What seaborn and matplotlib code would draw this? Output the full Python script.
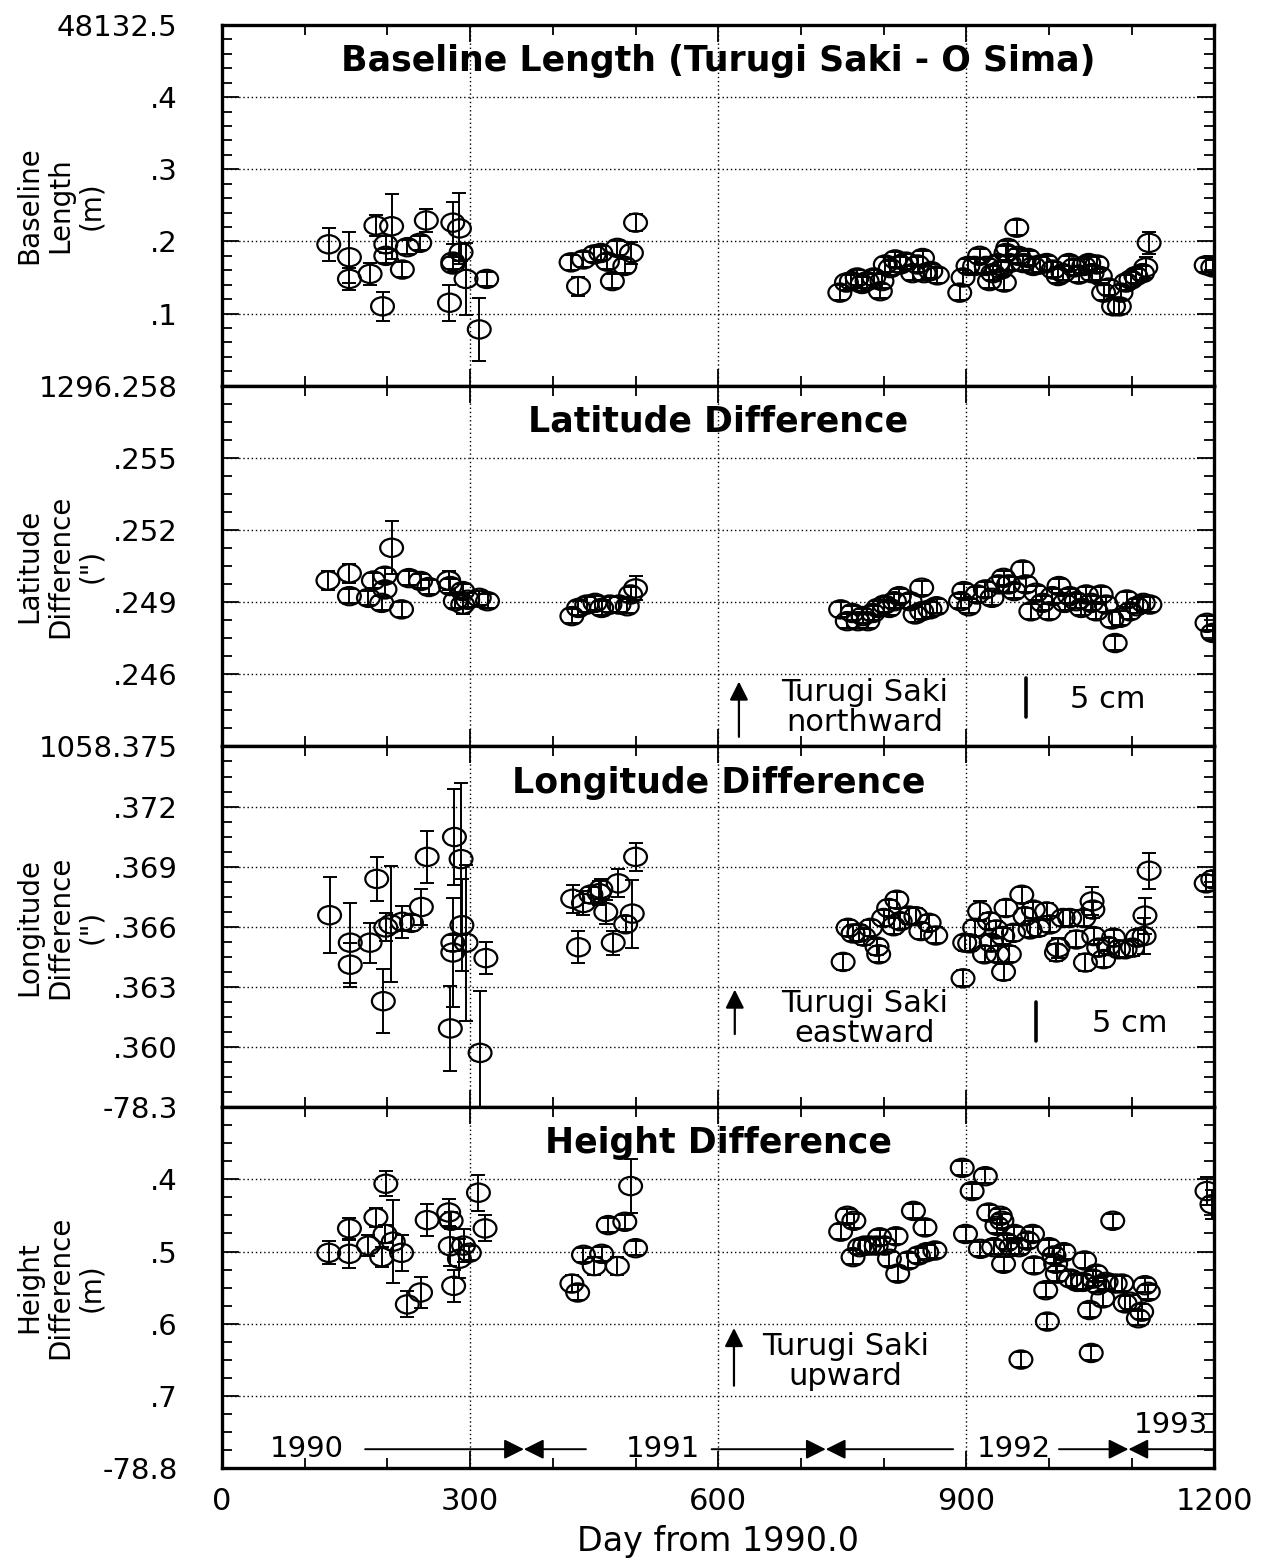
import numpy as np
import pandas as pd
import matplotlib
matplotlib.use("Agg")
import matplotlib.pyplot as plt
import seaborn as sns
from matplotlib.path import Path
from matplotlib.ticker import FixedLocator, FixedFormatter, MultipleLocator

# ---------------- data ----------------
# Panel 1: baseline length, decimals of 48132.xxx m
p1_day = [129, 154, 154, 179, 186, 194, 205, 198, 198, 218, 224, 239, 247, 275, 279, 279, 279, 287, 289, 295, 311, 320,
          422, 431, 437, 450, 458, 466, 472, 478, 487, 495, 500,
          747, 755, 761, 768, 774, 780, 788, 796, 798, 802, 808, 814, 820, 827, 835, 841, 847, 849, 857, 865,
          892, 896, 902, 910, 916, 924, 928, 932, 938, 942, 946, 948, 950, 952, 961, 963, 969, 975, 981, 989,
          997, 1005, 1011, 1017, 1024, 1030, 1036, 1042, 1048, 1052, 1058, 1062, 1066, 1072, 1078, 1085, 1087,
          1093, 1099, 1105, 1113, 1117, 1121, 1190, 1198]
p1_val = [0.196, 0.178, 0.148, 0.155, 0.222, 0.110, 0.221, 0.196, 0.180, 0.161, 0.192, 0.198, 0.229, 0.115, 0.226,
          0.172, 0.168, 0.218, 0.185, 0.148, 0.078, 0.148,
          0.171, 0.138, 0.175, 0.182, 0.184, 0.172, 0.145, 0.191, 0.166, 0.184, 0.226,
          0.129, 0.143, 0.145, 0.150, 0.141, 0.145, 0.150, 0.131, 0.145, 0.168, 0.163, 0.175, 0.168, 0.172, 0.156,
          0.168, 0.177, 0.156, 0.159, 0.153,
          0.129, 0.150, 0.166, 0.166, 0.180, 0.166, 0.145, 0.156, 0.170, 0.161, 0.143, 0.184, 0.191, 0.170, 0.219,
          0.180, 0.170, 0.177, 0.166, 0.168,
          0.170, 0.161, 0.152, 0.156, 0.170, 0.164, 0.154, 0.166, 0.170, 0.156, 0.168, 0.152, 0.129, 0.136, 0.110,
          0.110, 0.129, 0.143, 0.147, 0.152, 0.156, 0.164, 0.198, 0.167, 0.164]
p1_err = ([0.023, 0.035, 0.015, 0.015, 0.015, 0.020, 0.045, 0.012, 0.010, 0.010, 0.010, 0.010, 0.016, 0.025, 0.029,
           0.010, 0.010, 0.049, 0.012, 0.050, 0.044, 0.010,
           0.010, 0.013, 0.010, 0.010, 0.010, 0.010, 0.010, 0.010, 0.010, 0.015, 0.012]
          + [0.010] * 61 + [0.015, 0.015, 0.010, 0.010])

# Panel 2: latitude difference, decimals of 1296.xxx arcsec
p2_day = [128, 154, 154, 177, 183, 193, 197, 197, 205, 217, 226, 240, 250, 274, 276, 282, 291, 291, 297, 311, 321,
          423, 431, 441, 451, 459, 469, 480, 490, 494, 500,
          748, 756, 762, 769, 775, 781, 787, 793, 801, 807, 813, 819, 832, 838, 846, 846, 856, 864,
          893, 897, 903, 913, 923, 931, 939, 945, 951, 958, 968, 972, 978, 984, 992, 1000, 1004, 1012, 1019, 1025,
          1033, 1039, 1045, 1051, 1057, 1063, 1069, 1076, 1080, 1086, 1094, 1098, 1106, 1114, 1122, 1191, 1198]
p2_val = [0.2499, 0.2502, 0.24925, 0.24918, 0.2499, 0.24897, 0.24953, 0.2501, 0.25126, 0.2487, 0.2500, 0.24988,
          0.24963, 0.2499, 0.24967, 0.24904, 0.24946, 0.2489, 0.2491, 0.24918, 0.24904,
          0.24842, 0.24876, 0.2489, 0.24897, 0.24876, 0.2489, 0.2489, 0.24883, 0.24932, 0.24957,
          0.2487, 0.24821, 0.24855, 0.24821, 0.24842, 0.24821, 0.24855, 0.24876, 0.2489, 0.24876, 0.24904, 0.24925,
          0.24904, 0.24849, 0.2496, 0.24862, 0.2487, 0.24883,
          0.24904, 0.24946, 0.24883, 0.24932, 0.24953, 0.24918, 0.24974, 0.25001, 0.24974, 0.24946, 0.25036,
          0.24974, 0.24862, 0.24939, 0.24897, 0.24862, 0.24925, 0.24967, 0.24897, 0.24925, 0.24904, 0.24876,
          0.24932, 0.24897, 0.24862, 0.24932, 0.2489, 0.24828, 0.2473, 0.24835, 0.24911, 0.24862, 0.24883,
          0.24897, 0.2489, 0.24814, 0.24772]
p2_err = ([0.0004, 0.0004, 0.0003, 0.0003, 0.0003, 0.0003, 0.0003, 0.0003, 0.0011, 0.0003, 0.0003, 0.0003, 0.0003,
           0.0004, 0.0003, 0.0003, 0.0003, 0.0004, 0.0003, 0.0003, 0.0003,
           0.0003, 0.0003, 0.0003, 0.0003, 0.0003, 0.0003, 0.0003, 0.0003, 0.0003, 0.0005]
          + [0.0003] * 55)

# Panel 3: longitude difference, decimals of 1058.xxx arcsec
p3_day = [130, 155, 155, 179, 187, 195, 198, 204, 218, 229, 241, 248, 276, 279, 279, 281, 289, 290, 295, 319, 312,
          424, 431, 437, 446, 456, 458, 464, 473, 479, 488, 496, 500,
          751, 757, 763, 770, 776, 784, 792, 794, 800, 806, 812, 816, 820, 831, 839, 845, 855, 863,
          896, 898, 904, 910, 916, 922, 928, 930, 936, 938, 944, 945, 948, 952, 957, 967, 971, 977, 981, 987,
          997, 1001, 1009, 1011, 1017, 1025, 1033, 1042, 1044, 1052, 1053, 1054, 1060, 1066, 1072, 1078, 1084,
          1092, 1101, 1107, 1115, 1116, 1121, 1190, 1198]
p3_val = [0.36658, 0.36521, 0.36411, 0.36521, 0.36839, 0.36229, 0.36597, 0.36613, 0.36625, 0.3662, 0.36699,
          0.36949, 0.36093, 0.36472, 0.36521, 0.37048, 0.36938, 0.36608, 0.36521, 0.36444, 0.35971,
          0.3674, 0.36498, 0.36719, 0.36761, 0.36768, 0.36789, 0.36674, 0.36521, 0.36817, 0.36613, 0.36666, 0.36949,
          0.36425, 0.36595, 0.36567, 0.3657, 0.36551, 0.36595, 0.36501, 0.36463, 0.36644, 0.36694, 0.36603,
          0.36735, 0.36628, 0.36656, 0.36653, 0.36579, 0.3662, 0.36557,
          0.36343, 0.36521, 0.36518, 0.36595, 0.36677, 0.36463, 0.36628, 0.36521, 0.36587, 0.36463, 0.36554,
          0.36376, 0.36694, 0.36463, 0.3657, 0.3676, 0.36653, 0.36587, 0.36686, 0.36595, 0.36677, 0.36612,
          0.36472, 0.36496, 0.36644, 0.36644, 0.36537, 0.36644, 0.36422, 0.36727, 0.36686, 0.36554, 0.36496,
          0.36439, 0.36504, 0.36546, 0.36488, 0.36488, 0.36496, 0.36546, 0.36554, 0.36656, 0.3688, 0.36817, 0.36837]
p3_err = ([0.0019, 0.0020, 0.0011, 0.0010, 0.0011, 0.0016, 0.0007, 0.0029, 0.0008, 0.0004, 0.0009, 0.0013, 0.0021,
           0.0027, 0.0004, 0.0024, 0.0038, 0.0023, 0.0039, 0.0008, 0.0031,
           0.0007, 0.0008, 0.0006, 0.0004, 0.0006, 0.0005, 0.0006, 0.0006, 0.0007, 0.0004, 0.0017, 0.0007]
          + [0.0004] * 18
          + [0.0004] * 4 + [0.0005] + [0.0004] * 18 + [0.0005] + [0.0004] * 5 + [0.0007]
          + [0.0004] * 10 + [0.0009] * 3 + [0.0004] * 2)

# Panel 4: height difference (m)
p4_day = [129, 154, 154, 177, 186, 193, 198, 197, 207, 217, 224, 240, 248, 274, 277, 276, 280, 287, 292, 299, 310, 318,
          423, 430, 437, 450, 459, 467, 478, 487, 494, 500,
          748, 756, 764, 763, 771, 777, 783, 791, 795, 801, 807, 815, 817, 830, 836, 842, 850, 852, 862,
          895, 899, 907, 917, 923, 927, 933, 937, 941, 943, 945, 949, 954, 958, 964, 966, 974, 980, 982, 996,
          998, 1000, 1006, 1008, 1010, 1018, 1026, 1034, 1041, 1043, 1049, 1051, 1053, 1057, 1059, 1065, 1069,
          1077, 1080, 1088, 1092, 1098, 1108, 1112, 1116, 1120, 1191, 1197]
p4_val = [-78.5018, -78.468, -78.5032, -78.4918, -78.4528, -78.5078, -78.4061, -78.4757, -78.4863, -78.5018,
          -78.5733, -78.5568, -78.4565, -78.4459, -78.4574, -78.4927, -78.5476, -78.5101, -78.4918, -78.5018,
          -78.4185, -78.468,
          -78.5444, -78.5568, -78.5046, -78.5202, -78.5032, -78.4634, -78.5202, -78.4588, -78.4093, -78.4954,
          -78.4725, -78.4505, -78.4574, -78.5078, -78.494, -78.4918, -78.4918, -78.4918, -78.4803, -78.4918,
          -78.5101, -78.4789, -78.5307, -78.5124, -78.4437, -78.5055, -78.4666, -78.5009, -78.4986,
          -78.3841, -78.4757, -78.4162, -78.4963, -78.3956, -78.446, -78.494, -78.4643, -78.4505, -78.4574,
          -78.517, -78.4872, -78.494, -78.4757, -78.494, -78.6498, -78.4849, -78.4757, -78.5192, -78.5536,
          -78.5971, -78.494, -78.5055, -78.517, -78.5307, -78.5009, -78.5376, -78.5421, -78.5421, -78.5124,
          -78.5811, -78.6406, -78.5376, -78.5307, -78.5467, -78.565, -78.5421, -78.4574, -78.5444, -78.5444,
          -78.5719, -78.5696, -78.5925, -78.5834, -78.5467, -78.5559, -78.4162, -78.4345]
p4_err = ([0.016, 0.014, 0.019, 0.015, 0.013, 0.014, 0.017, 0.012, 0.057, 0.025, 0.018, 0.021, 0.022, 0.019, 0.012,
           0.027, 0.022, 0.027, 0.023, 0.010, 0.025, 0.018,
           0.012, 0.010, 0.010, 0.012, 0.010, 0.010, 0.012, 0.010, 0.037, 0.010]
          + [0.010] * 65 + [0.020, 0.020])

titles = ["Baseline Length (Turugi Saki - O Sima)", "Latitude Difference",
          "Longitude Difference", "Height Difference"]
ylabels = ["Baseline\nLength\n(m)", "Latitude\nDifference\n(\")", "Longitude\nDifference\n(\")",
           "Height\nDifference\n(m)"]
y_ticks = [[0.0, 0.1, 0.2, 0.3, 0.4, 0.5],
           [0.243, 0.246, 0.249, 0.252, 0.255, 0.258],
           [0.357, 0.360, 0.363, 0.366, 0.369, 0.372, 0.375],
           [-78.8, -78.7, -78.6, -78.5, -78.4, -78.3]]
y_ticklabels = [["", ".1", ".2", ".3", ".4", "48132.5"],
                ["", ".246", ".249", ".252", ".255", "1296.258"],
                ["", ".360", ".363", ".366", ".369", ".372", "1058.375"],
                ["-78.8", ".7", ".6", ".5", ".4", "-78.3"]]
y_minor = [0.02, 0.00075, 0.00075, 0.025]
x_ticks = [0, 300, 600, 900, 1200]
x_label = "Day from 1990.0"
year_labels = ["1990", "1991", "1992", "1993"]
year_label_day = [102, 533, 957, 1148]
year_bounds = [365, 730, 1096]

# ---------------- style ----------------
sns.set_theme(style="ticks")
plt.rcParams["font.family"] = ["DejaVu Sans"]
plt.rcParams["axes.linewidth"] = 2.4
for key in ["text.color", "axes.labelcolor", "xtick.color", "ytick.color", "axes.edgecolor"]:
    plt.rcParams[key] = "black"

fig = plt.figure(figsize=(12.69, 15.6), dpi=100)
left, right, top, bottom = 0.175, 0.957, 0.984, 0.059
h = (top - bottom) / 4
axes = [fig.add_axes([left, top - (i + 1) * h, right - left, h]) for i in range(4)]

circ = Path.unit_circle()
ellipse = Path(circ.vertices * np.array([1.0, 0.8]), circ.codes)

panels = [(p1_day, p1_val, p1_err), (p2_day, p2_val, p2_err),
          (p3_day, p3_val, p3_err), (p4_day, p4_val, p4_err)]

for i, ax in enumerate(axes):
    d, v, e = panels[i]
    df = pd.DataFrame({"day": d, "val": v, "err": e})
    ax.errorbar(df["day"], df["val"], yerr=df["err"], fmt="none", ecolor="black",
                elinewidth=1.4, capsize=5, capthick=1.4, zorder=2)
    sns.scatterplot(data=df, x="day", y="val", ax=ax, marker=ellipse, s=270,
                    facecolor="none", edgecolor="black", linewidth=1.6, zorder=3, legend=False)
    ax.set_xlim(0, 1200)
    ax.set_ylim(y_ticks[i][0], y_ticks[i][-1])
    ax.xaxis.set_major_locator(FixedLocator(x_ticks))
    ax.xaxis.set_minor_locator(MultipleLocator(100))
    ax.yaxis.set_major_locator(FixedLocator(y_ticks[i]))
    ax.yaxis.set_major_formatter(FixedFormatter(y_ticklabels[i]))
    ax.yaxis.set_minor_locator(MultipleLocator(y_minor[i]))
    ax.grid(True, which="major", color="black", linestyle=(0, (1, 2)), linewidth=1.0)
    ax.tick_params(which="both", direction="in", top=True, right=True, color="black", width=1.3)
    ax.tick_params(which="major", length=12, labelsize=21, pad=32)
    ax.tick_params(which="minor", length=7)
    ax.tick_params(axis="x", which="major", pad=14)
    if i < 3:
        ax.tick_params(axis="x", labelbottom=False)
    ax.set_xlabel("")
    ax.set_ylabel("")
    for sp in ax.spines.values():
        sp.set_color("black")
        sp.set_linewidth(2.4)
    ax.text(0.5, 0.9, titles[i], transform=ax.transAxes, ha="center", va="center",
            fontsize=25, fontweight="bold", color="black")
    ax.text(-0.163, 0.5, ylabels[i], transform=ax.transAxes, rotation=90, ha="center",
            va="center", multialignment="center", fontsize=20, linespacing=1.12, color="black")

axes[3].set_xlabel(x_label, fontsize=24, labelpad=6)
for lab in axes[3].get_xticklabels():
    lab.set_fontsize(22)

arrow_kw = dict(arrowstyle="-|>", color="black", lw=1.6, mutation_scale=28, shrinkA=0, shrinkB=0)
ann_fs = 22

# panel 2 annotations
ax = axes[1]
ax.annotate("", xy=(625, 0.2457), xytext=(625, 0.2434), arrowprops=arrow_kw)
ax.text(777, 0.24462, "Turugi Saki\nnorthward", ha="center", va="center", fontsize=ann_fs, linespacing=1.05)
ax.plot([972, 972], [0.24423, 0.24585], color="black", lw=2.6)
ax.text(1071, 0.24496, "5 cm", ha="center", va="center", fontsize=ann_fs)

# panel 3 annotations
ax = axes[2]
ax.annotate("", xy=(620, 0.36287), xytext=(620, 0.36065), arrowprops=arrow_kw)
ax.text(777, 0.36144, "Turugi Saki\neastward", ha="center", va="center", fontsize=ann_fs, linespacing=1.05)
ax.plot([984, 984], [0.36029, 0.36225], color="black", lw=2.6)
ax.text(1097, 0.36119, "5 cm", ha="center", va="center", fontsize=ann_fs)

# panel 4 annotations
ax = axes[3]
ax.annotate("", xy=(619, -78.606), xytext=(619, -78.686), arrowprops=arrow_kw)
ax.text(754, -78.653, "Turugi Saki\nupward", ha="center", va="center", fontsize=ann_fs, linespacing=1.05)

yr_y = -78.774
ax.text(year_label_day[0], yr_y, year_labels[0], ha="center", va="center", fontsize=21)
ax.text(year_label_day[1], yr_y, year_labels[1], ha="center", va="center", fontsize=21)
ax.text(year_label_day[2], yr_y, year_labels[2], ha="center", va="center", fontsize=21)
ax.text(year_label_day[3], -78.741, year_labels[3], ha="center", va="center", fontsize=21)
yr_kw = dict(arrowstyle="-|>", color="black", lw=1.4, mutation_scale=30, shrinkA=0, shrinkB=0)
ax.annotate("", xy=(year_bounds[0], yr_y), xytext=(173, yr_y), arrowprops=yr_kw)
ax.annotate("", xy=(year_bounds[0], yr_y), xytext=(440, yr_y), arrowprops=yr_kw)
ax.annotate("", xy=(year_bounds[1], yr_y), xytext=(592, yr_y), arrowprops=yr_kw)
ax.annotate("", xy=(year_bounds[1], yr_y), xytext=(884, yr_y), arrowprops=yr_kw)
ax.annotate("", xy=(year_bounds[2], yr_y), xytext=(1012, yr_y), arrowprops=yr_kw)
ax.annotate("", xy=(year_bounds[2], yr_y), xytext=(1199, yr_y), arrowprops=yr_kw)

fig.savefig("out.png", dpi=100, facecolor="white")
